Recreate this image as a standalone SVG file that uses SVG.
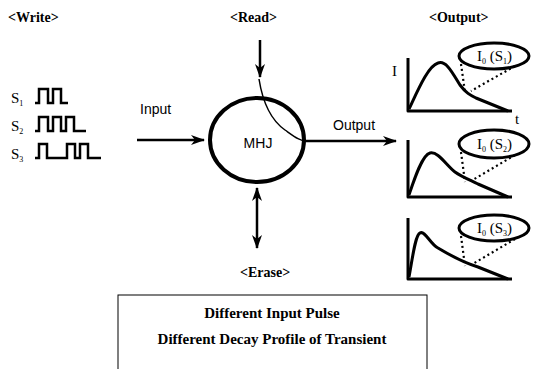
<svg xmlns="http://www.w3.org/2000/svg" width="537" height="369" viewBox="0 0 537 369">
<defs>
<marker id="ah" viewBox="0 0 14 10" refX="13" refY="5" markerWidth="14" markerHeight="10" markerUnits="userSpaceOnUse" orient="auto-start-reverse">
<path d="M0,0 L14,5 L0,10 L4,5 Z" fill="#000"/>
</marker>
<style>
.hd{font-family:"Liberation Serif","Times New Roman",serif;font-weight:bold;font-size:14px;fill:#000}
.sn{font-family:"Liberation Sans",Arial,sans-serif;font-size:14px;fill:#000}
.sf{font-family:"Liberation Serif","Times New Roman",serif;font-size:15px;fill:#000}
.sub{font-size:8px}
.thick{fill:none;stroke:#000;stroke-width:3;stroke-linejoin:round}
.pulse{fill:none;stroke:#000;stroke-width:2.5;stroke-linejoin:miter}
.arr{fill:none;stroke:#000;stroke-width:2.5}
.dot{fill:none;stroke:#000;stroke-width:2.2;stroke-dasharray:2 3}
.box{fill:none;stroke:#000;stroke-width:1}
.bt{font-family:"Liberation Serif","Times New Roman",serif;font-weight:bold;font-size:15px;fill:#000}
</style>
</defs>
<rect width="537" height="369" fill="#fff"/>

<g id="write">
<text class="hd" x="8" y="22">&lt;Write&gt;</text>
<text class="sf" x="11" y="103">S<tspan class="sub" dy="3">1</tspan></text>
<text class="sf" x="11" y="131">S<tspan class="sub" dy="3">2</tspan></text>
<text class="sf" x="11" y="159">S<tspan class="sub" dy="3">3</tspan></text>
<path class="pulse" d="M35,103 H39 V89 H48 V103 H53 V89 H61 V103 H68"/>
<path class="pulse" d="M35,131 H39 V117 H48 V131 H53 V117 H61 V131 H66 V117 H74 V131 H86"/>
<path class="pulse" d="M35,158 H39 V144 H47 V158 H67 V144 H75 V158 H80 V144 H88 V158 H101"/>
</g>

<g id="read">
<text class="hd" x="230" y="22">&lt;Read&gt;</text>
</g>

<g id="mhj">
<ellipse cx="257" cy="140" rx="47" ry="42" fill="none" stroke="#000" stroke-width="4"/>
<text class="sn" x="258" y="148" text-anchor="middle">MHJ</text>
</g>

<g id="erase">
<text class="hd" x="240" y="277">&lt;Erase&gt;</text>
</g>

<g id="output">
<text class="hd" x="429" y="22">&lt;Output&gt;</text>
<text class="sf" x="392" y="76">I</text>
<text class="sf" x="515" y="124">t</text>
<g id="graph1">
<path class="thick" d="M408,58 V111 H512"/>
<path class="thick" d="M409,109 C418,90 428,66 438,63 C446,60 452,72 460,85 C466,93 470,95 476,98 L508,111"/>
<ellipse cx="494" cy="56" rx="35" ry="13" fill="#fff" stroke="#000" stroke-width="3"/>
<text class="sf" x="477" y="61">I<tspan class="sub" dy="3">0</tspan><tspan dy="-3"> (S</tspan><tspan class="sub" dy="3">1</tspan><tspan dy="-3">)</tspan></text>
<path class="dot" d="M461,64 L465,92"/>
<path class="dot" d="M515,66 L471,91"/>
</g>
<g id="graph2">
<path class="thick" d="M408,140 V197 H512"/>
<path class="thick" d="M409,195 C414,180 422,155 430,153 C438,151 446,165 455,172 C462,177 470,180 478,184 L508,197"/>
<ellipse cx="494" cy="144" rx="35" ry="14" fill="#fff" stroke="#000" stroke-width="3"/>
<text class="sf" x="477" y="149">I<tspan class="sub" dy="3">0</tspan><tspan dy="-3"> (S</tspan><tspan class="sub" dy="3">2</tspan><tspan dy="-3">)</tspan></text>
<path class="dot" d="M461,152 L465,182"/>
<path class="dot" d="M515,155 L471,181"/>
</g>
<g id="graph3">
<path class="thick" d="M408,218 V279 H512"/>
<path class="thick" d="M409,277 C412,262 415,235 420,233 C425,230 430,244 438,248 C448,254 462,262 478,267 L508,279"/>
<ellipse cx="494" cy="228" rx="35" ry="13" fill="#fff" stroke="#000" stroke-width="3"/>
<text class="sf" x="477" y="233">I<tspan class="sub" dy="3">0</tspan><tspan dy="-3"> (S</tspan><tspan class="sub" dy="3">3</tspan><tspan dy="-3">)</tspan></text>
<path class="dot" d="M461,236 L465,266"/>
<path class="dot" d="M515,239 L471,265"/>
</g>
</g>

<g id="connectors">
<text class="sn" x="140" y="114">Input</text>
<line class="arr" x1="137" y1="140" x2="204" y2="140" marker-end="url(#ah)"/>
<line class="arr" x1="260" y1="40" x2="260" y2="77" marker-end="url(#ah)"/>
<path d="M259,79 C262,98 268,118 285,130 C295,137 300,141 306,141" fill="none" stroke="#000" stroke-width="1.5"/>
<text class="sn" x="333" y="130">Output</text>
<line class="arr" x1="304" y1="141" x2="396" y2="141" marker-end="url(#ah)"/>
<line class="arr" x1="257" y1="188" x2="257" y2="248" marker-start="url(#ah)" marker-end="url(#ah)"/>
</g>

<g id="summary">
<rect class="box" x="118" y="295" width="309" height="90"/>
<text class="bt" x="272" y="318" text-anchor="middle">Different Input Pulse</text>
<text class="bt" x="272" y="344" text-anchor="middle">Different Decay Profile of Transient</text>
</g>
</svg>
